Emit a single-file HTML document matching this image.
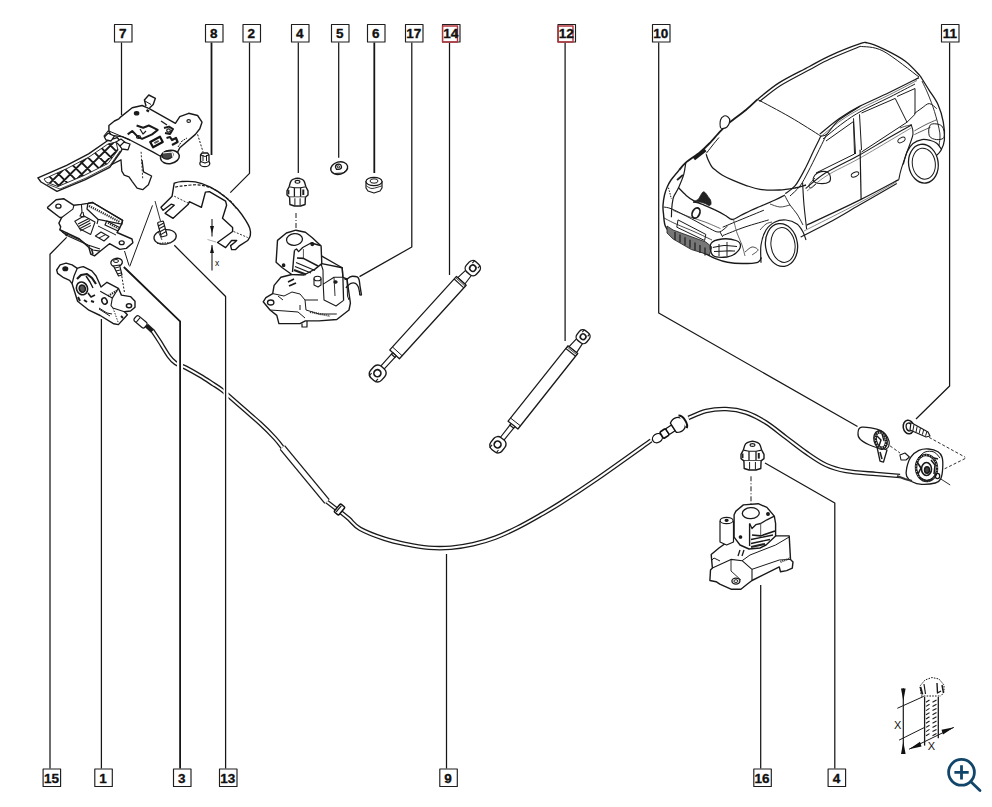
<!DOCTYPE html>
<html><head><meta charset="utf-8"><style>
html,body{margin:0;padding:0;background:#fff;width:992px;height:807px;overflow:hidden}
svg{position:absolute;left:0;top:0}
text{font-family:"Liberation Sans",sans-serif;font-weight:bold;font-size:13.5px;fill:#111;stroke:#111;stroke-width:0.35px}
</style></head><body>
<svg width="992" height="807" viewBox="0 0 992 807" stroke-linejoin="round">
<path d="M152.0,330.0 C153.3,331.9 156.9,337.2 159.7,341.6 C162.5,346.0 166.4,352.8 169.0,356.4 C171.6,360.0 172.7,361.1 175.5,363.0 C178.3,364.9 181.5,365.4 185.7,367.6 C189.9,369.8 195.9,373.2 200.6,376.0 C205.2,378.8 210.0,382.0 213.6,384.3 C217.2,386.6 219.2,387.8 222.0,390.0 C224.8,392.2 226.4,393.9 230.3,397.3 C234.2,400.7 240.2,406.0 245.2,410.3 C250.1,414.6 255.0,418.7 260.0,423.3 C265.0,427.9 271.3,434.2 275.0,438.2 C278.7,442.2 281.2,445.9 282.4,447.5" stroke="#1a1a1a" stroke-width="4.6" fill="none" stroke-linecap="butt"/>
<path d="M152.0,330.0 C153.3,331.9 156.9,337.2 159.7,341.6 C162.5,346.0 166.4,352.8 169.0,356.4 C171.6,360.0 172.7,361.1 175.5,363.0 C178.3,364.9 181.5,365.4 185.7,367.6 C189.9,369.8 195.9,373.2 200.6,376.0 C205.2,378.8 210.0,382.0 213.6,384.3 C217.2,386.6 219.2,387.8 222.0,390.0 C224.8,392.2 226.4,393.9 230.3,397.3 C234.2,400.7 240.2,406.0 245.2,410.3 C250.1,414.6 255.0,418.7 260.0,423.3 C265.0,427.9 271.3,434.2 275.0,438.2 C278.7,442.2 281.2,445.9 282.4,447.5" stroke="#fff" stroke-width="2.0" fill="none" stroke-linecap="butt"/>
<path d="M340.0,511.5 C341.5,512.7 345.6,515.9 348.9,518.8 C352.2,521.7 354.1,525.5 360.0,528.8 C365.9,532.1 376.6,536.2 384.4,538.8 C392.1,541.4 399.1,542.8 406.5,544.3 C413.9,545.8 421.3,547.1 428.7,547.7 C436.1,548.3 443.5,548.3 450.9,547.7 C458.3,547.1 465.6,546.0 473.0,544.3 C480.4,542.6 487.8,540.5 495.2,537.7 C502.6,534.9 510.0,531.4 517.4,527.7 C524.8,524.0 532.5,519.6 539.6,515.5 C546.7,511.4 550.4,509.4 560.0,503.3 C569.6,497.2 582.1,489.1 597.3,478.6 C612.5,468.1 642.0,446.9 651.0,440.5" stroke="#1a1a1a" stroke-width="4.6" fill="none" stroke-linecap="butt"/>
<path d="M340.0,511.5 C341.5,512.7 345.6,515.9 348.9,518.8 C352.2,521.7 354.1,525.5 360.0,528.8 C365.9,532.1 376.6,536.2 384.4,538.8 C392.1,541.4 399.1,542.8 406.5,544.3 C413.9,545.8 421.3,547.1 428.7,547.7 C436.1,548.3 443.5,548.3 450.9,547.7 C458.3,547.1 465.6,546.0 473.0,544.3 C480.4,542.6 487.8,540.5 495.2,537.7 C502.6,534.9 510.0,531.4 517.4,527.7 C524.8,524.0 532.5,519.6 539.6,515.5 C546.7,511.4 550.4,509.4 560.0,503.3 C569.6,497.2 582.1,489.1 597.3,478.6 C612.5,468.1 642.0,446.9 651.0,440.5" stroke="#fff" stroke-width="2.0" fill="none" stroke-linecap="butt"/>
<path d="M688.5,418.0 C691.4,416.8 699.8,412.5 706.0,411.0 C712.2,409.5 719.3,408.8 726.0,409.0 C732.7,409.2 739.3,410.2 746.0,412.5 C752.7,414.8 759.3,418.3 766.0,422.5 C772.7,426.7 779.3,432.5 786.0,437.5 C792.7,442.5 799.3,447.9 806.0,452.5 C812.7,457.1 819.3,461.9 826.0,465.0 C832.7,468.1 837.7,469.5 846.0,471.0 C854.3,472.5 867.0,473.2 876.0,474.0 C885.0,474.8 896.0,475.7 900.0,476.0" stroke="#1a1a1a" stroke-width="4.6" fill="none" stroke-linecap="butt"/>
<path d="M688.5,418.0 C691.4,416.8 699.8,412.5 706.0,411.0 C712.2,409.5 719.3,408.8 726.0,409.0 C732.7,409.2 739.3,410.2 746.0,412.5 C752.7,414.8 759.3,418.3 766.0,422.5 C772.7,426.7 779.3,432.5 786.0,437.5 C792.7,442.5 799.3,447.9 806.0,452.5 C812.7,457.1 819.3,461.9 826.0,465.0 C832.7,468.1 837.7,469.5 846.0,471.0 C854.3,472.5 867.0,473.2 876.0,474.0 C885.0,474.8 896.0,475.7 900.0,476.0" stroke="#fff" stroke-width="2.0" fill="none" stroke-linecap="butt"/>
<path d="M326.0,501.0 L341.0,512.5" stroke="#1a1a1a" stroke-width="4.2" fill="none" />
<path d="M326.0,501.0 L341.0,512.5" stroke="#fff" stroke-width="1.8" fill="none" />
<path d="M282.4,447.5 L327.0,501.5" stroke="#1a1a1a" stroke-width="7.0" fill="none" stroke-linecap="butt"/>
<path d="M282.4,447.5 L327.0,501.5" stroke="#fff" stroke-width="4.4" fill="none" stroke-linecap="butt"/>
<rect x="177" y="360" width="6" height="12" fill="#fff"/>
<rect x="223.5" y="388" width="5" height="12" fill="#fff"/>
<g transform="translate(140.5,321.8) rotate(40)"><rect x="-6.8" y="-3.4" width="13.6" height="6.8" rx="2" fill="#fff" stroke="#1a1a1a" stroke-width="1.2"/><path d="M-3,-3.3 V3.3" stroke="#1a1a1a" stroke-width="1"/></g>
<path d="M146.5,325.5 L152.5,331" stroke="#1a1a1a" stroke-width="4.5"/>
<g transform="translate(339.5,509.5) rotate(40)"><rect x="-3" y="-5.2" width="6" height="10.4" rx="1.5" fill="#fff" stroke="#111" stroke-width="1.5"/><path d="M-1,-4 V4" stroke="#111" stroke-width="1.2"/></g>
<g transform="translate(670,430) rotate(-33)" fill="#fff" stroke="#111" stroke-width="1.3"><ellipse cx="-15" cy="0" rx="5.2" ry="4.3"/><rect x="-10" y="-3.8" width="7" height="7.6" rx="1.5" stroke-width="1.7"/><rect x="-3" y="-3.4" width="7" height="6.8" rx="1"/><path d="M4,-5.5 C9,-9 16,-8 17,0 C16,8 9,9 4,5.5 Z"/><path d="M15,-7.5 C19,-5 19,5 15,7.5" stroke-width="2"/></g>
<g stroke="#12456a" stroke-width="2.8" fill="none" stroke-linecap="round"><circle cx="961.5" cy="772.3" r="12.9"/><path d="M954.4,772.3 H968.7 M961.5,765.2 V779.4" stroke-linecap="butt"/><path d="M970.6,781.6 L980,790.6"/></g>
<path d="M757.5,99.4 C761.1,96.6 770.7,88.0 779.3,82.6 C787.9,77.1 800.6,71.2 809.0,66.7 C817.4,62.2 821.3,59.6 829.7,55.8 C838.1,52.0 853.2,46.0 859.5,43.9 C865.8,41.8 863.4,42.1 867.4,42.9 C871.4,43.7 877.0,45.9 883.3,48.9 C889.6,51.9 898.8,56.5 905.0,61.0 C911.2,65.5 917.8,73.6 920.3,76.1" stroke="#1a1a1a" stroke-width="1.3" fill="none"/>
<path d="M759.5,101.5 C763.1,98.8 772.6,90.6 781.0,85.3 C789.4,80.0 801.7,74.0 810.0,69.5 C818.3,65.0 822.7,62.4 831.0,58.6 C839.3,54.8 855.2,48.5 860.0,46.5" stroke="#1a1a1a" stroke-width="1.1" fill="none"/>
<path d="M860.0,46.3 C863.8,47.1 873.2,45.9 883.0,51.0 C892.8,56.1 913.0,72.7 919.0,77.0" stroke="#1a1a1a" stroke-width="1.0" fill="none"/>
<path d="M920.3,76.1 C921.8,78.5 926.2,85.6 929.2,90.3 C932.2,95.0 935.6,99.2 938.0,104.5 C940.4,109.8 942.2,116.3 943.3,122.2 C944.4,128.1 944.8,135.3 944.4,140.0 C944.0,144.7 942.5,147.7 940.9,150.5 C939.3,153.3 936.0,155.9 935.0,157.0" stroke="#1a1a1a" stroke-width="1.3" fill="none"/>
<path d="M922.0,81.0 C923.0,83.2 925.9,88.9 928.0,94.0 C930.1,99.1 932.5,105.1 934.5,111.6 C936.5,118.1 939.0,127.2 939.8,132.9 C940.5,138.6 939.1,143.8 939.0,146.0" stroke="#1a1a1a" stroke-width="0.9" fill="none"/>
<path d="M757.5,99.4 C755.6,101.2 750.5,106.2 745.9,110.0 C741.3,113.8 734.0,118.9 729.8,122.4 C725.6,125.9 723.9,127.6 720.5,131.1 C717.1,134.6 712.7,140.0 709.3,143.5 C705.9,147.0 703.9,149.0 700.0,152.2 C696.1,155.4 689.3,159.6 685.8,162.6 C682.3,165.6 680.3,168.8 679.2,170.0" stroke="#1a1a1a" stroke-width="1.8" fill="none"/>
<path d="M705.5,150.0 L694.0,159.0" stroke="#1a1a1a" stroke-width="3.4" fill="none"/>
<path d="M719.0,137.5 C717.8,138.9 714.1,143.3 712.0,146.0 C709.9,148.7 707.2,152.2 706.2,153.4" stroke="#1a1a1a" stroke-width="1.0" fill="none"/>
<path d="M706.2,154.3 C706.5,155.2 707.0,157.4 708.0,159.5 C709.0,161.6 710.6,165.1 711.9,166.9 C713.2,168.7 714.2,169.1 716.0,170.5 C717.8,171.9 719.7,173.6 722.5,175.2 C725.3,176.8 728.7,178.5 732.6,180.2 C736.5,181.9 741.1,183.8 745.7,185.3 C750.3,186.8 754.4,188.5 760.0,189.3 C765.6,190.1 773.5,190.2 779.3,190.0 C785.1,189.8 790.5,188.8 795.0,188.0 C799.5,187.2 804.2,185.5 806.0,185.0" stroke="#1a1a1a" stroke-width="1.3" fill="none"/>
<path d="M757.5,99.4 C762.9,102.3 779.4,110.9 790.0,117.0 C800.6,123.1 815.8,132.9 820.9,136.1" stroke="#1a1a1a" stroke-width="1.0" fill="none"/>
<path d="M820.9,136.1 C819.8,138.4 816.5,144.8 814.0,150.0 C811.5,155.2 809.1,161.1 806.0,167.0 C802.9,172.9 798.7,181.3 795.2,185.7 C791.7,190.1 786.9,192.3 785.2,193.6" stroke="#1a1a1a" stroke-width="1.2" fill="none"/>
<path d="M826.9,134.1 C825.4,137.1 821.1,145.7 818.0,152.0 C814.9,158.3 811.0,166.3 808.0,172.0 C805.0,177.7 803.0,182.0 800.0,186.0 C797.0,190.0 791.7,194.3 790.0,196.0" stroke="#1a1a1a" stroke-width="1.0" fill="none"/>
<path d="M820.9,136.1 C821.9,135.8 823.9,136.8 826.9,134.1 C829.9,131.4 833.3,124.8 838.8,120.2 C844.3,115.6 856.5,108.7 860.0,106.4" stroke="#1a1a1a" stroke-width="1.1" fill="none"/>
<path d="M819.8,134.1 C823.1,131.5 833.1,122.9 839.7,118.3 C846.3,113.7 851.2,110.7 859.5,106.4 C867.8,102.1 879.3,97.3 889.2,92.5 C899.1,87.7 914.0,80.1 919.0,77.6" stroke="#1a1a1a" stroke-width="1.2" fill="none"/>
<path d="M823.0,139.0 C826.3,136.3 836.6,127.7 843.0,123.0 C849.4,118.3 853.7,115.3 861.5,111.0 C869.3,106.7 881.1,101.5 890.0,97.0 C898.9,92.5 910.8,86.2 915.0,84.0" stroke="#1a1a1a" stroke-width="1.0" fill="none"/>
<path d="M821.0,136.5 C824.3,133.8 834.4,125.1 841.0,120.5 C847.6,115.9 852.4,113.0 860.5,108.7 C868.6,104.4 880.1,99.4 889.5,94.7 C898.9,90.0 912.4,82.9 917.0,80.5" stroke="#444" stroke-width="0.7" fill="none"/>
<path d="M720.8,128.0 C719.7,126.8 720.0,122.0 720.5,120.0 C721.0,118.0 722.8,116.5 724.0,116.0 C725.2,115.5 727.0,116.2 728.0,117.0 C729.0,117.8 729.9,119.3 729.7,121.0 C729.5,122.7 728.5,125.8 727.0,127.0 C725.5,128.2 721.9,129.2 720.8,128.0Z" stroke="#1a1a1a" stroke-width="1.1" fill="#fff"/>
<path d="M813.5,181.0 C812.7,179.6 813.8,176.6 815.0,175.0 C816.2,173.4 818.8,172.0 821.0,171.6 C823.2,171.2 826.4,171.6 828.0,172.5 C829.6,173.4 830.2,175.4 830.4,177.0 C830.6,178.6 830.7,180.9 829.0,182.0 C827.3,183.1 822.6,183.7 820.0,183.5 C817.4,183.3 814.3,182.4 813.5,181.0Z" stroke="#1a1a1a" stroke-width="1.1" fill="#fff"/>
<path d="M815.0,178.0 C814.0,179.2 809.7,183.3 809.0,185.0 C808.3,186.7 809.8,188.2 811.0,188.0 C812.2,187.8 815.2,184.7 816.0,184.0" stroke="#1a1a1a" stroke-width="0.9" fill="none"/>
<path d="M826.0,141.0 L853.5,121.5 L854.5,154.0 L816.0,173.0" stroke="#1a1a1a" stroke-width="1.0" fill="none"/>
<path d="M853.5,118.3 L855.5,154.0" stroke="#1a1a1a" stroke-width="1.0" fill="none"/>
<path d="M859.5,114.3 L861.5,150.0" stroke="#1a1a1a" stroke-width="1.0" fill="none"/>
<path d="M861.5,113.0 L895.2,98.4 L907.0,122.2 L861.5,152.0" stroke="#1a1a1a" stroke-width="1.0" fill="none"/>
<path d="M897.0,96.5 L915.0,88.5 L915.0,114.3 L907.0,122.2" stroke="#1a1a1a" stroke-width="1.0" fill="none"/>
<path d="M805.6,188.5 C809.0,185.9 816.8,178.4 825.8,172.8 C834.8,167.2 849.6,160.5 859.5,155.0 C869.4,149.5 876.4,145.0 885.0,140.0 C893.6,135.0 906.7,127.7 911.0,125.2" stroke="#1a1a1a" stroke-width="1.1" fill="none"/>
<path d="M807.0,191.0 C810.3,188.4 818.2,181.0 827.0,175.5 C835.8,170.0 846.0,165.9 860.0,158.0 C874.0,150.1 902.5,133.0 911.0,128.0" stroke="#555" stroke-width="0.7" fill="none"/>
<path d="M802.6,182.5 C802.8,186.2 803.3,197.2 804.0,205.0 C804.7,212.8 806.2,225.0 806.6,229.0" stroke="#1a1a1a" stroke-width="1.1" fill="none"/>
<path d="M860.1,149.8 L861.1,199.4" stroke="#1a1a1a" stroke-width="1.2" fill="none"/>
<path d="M911.0,124.2 C911.3,125.8 913.7,129.5 913.0,134.1 C912.3,138.7 909.0,146.1 907.0,152.0 C905.0,157.9 902.4,165.2 901.0,169.8 C899.6,174.4 899.2,178.0 898.8,179.6" stroke="#1a1a1a" stroke-width="1.1" fill="none"/>
<path d="M806.6,225.2 C815.4,221.1 843.7,208.0 859.1,200.4 C874.5,192.8 892.2,183.1 898.8,179.6" stroke="#1a1a1a" stroke-width="1.2" fill="none"/>
<path d="M800.6,237.0 C805.5,234.5 820.3,227.3 830.0,222.0 C839.7,216.7 847.9,211.7 859.0,205.3 C870.1,198.9 890.5,187.1 896.8,183.5" stroke="#1a1a1a" stroke-width="1.2" fill="none"/>
<path d="M804.0,231.0 C813.2,226.3 843.5,211.2 859.0,203.0 C874.5,194.8 890.7,185.1 897.0,181.5" stroke="#555" stroke-width="0.7" fill="none"/>
<path d="M914.4,113.5 C915.7,112.6 919.5,109.7 922.0,108.0 C924.5,106.3 926.8,103.5 929.3,103.6 C931.8,103.7 935.5,107.8 936.7,108.6" stroke="#1a1a1a" stroke-width="1.0" fill="none"/>
<path d="M914.4,130.9 C916.2,129.9 921.3,126.9 925.0,125.0 C928.7,123.1 934.8,120.6 936.7,119.7" stroke="#333" stroke-width="0.8" fill="none"/>
<path d="M914.4,134.6 C915.7,134.0 919.3,132.2 922.0,131.0 C924.7,129.8 929.1,127.8 930.5,127.2" stroke="#333" stroke-width="0.8" fill="none"/>
<path d="M930.5,124.7 C932.6,123.0 939.4,123.8 941.7,125.9 C944.0,128.0 945.0,134.8 944.2,137.1 C943.4,139.4 939.2,139.8 936.7,139.6 C934.2,139.4 930.3,138.3 929.3,135.8 C928.3,133.3 928.4,126.4 930.5,124.7Z" stroke="#1a1a1a" stroke-width="1.0" fill="none"/>
<path d="M900.0,128.0 C901.0,127.7 904.2,126.5 906.0,126.0 C907.8,125.5 910.2,125.2 911.0,125.0" stroke="#1a1a1a" stroke-width="0.8" fill="none"/>
<ellipse cx="855.0" cy="174.5" rx="4.0" ry="2.2" transform="rotate(-25 855.0 174.5)" stroke="#1a1a1a" stroke-width="0.9" fill="none"/>
<ellipse cx="901.5" cy="140.0" rx="4.0" ry="2.2" transform="rotate(-30 901.5 140.0)" stroke="#1a1a1a" stroke-width="0.9" fill="none"/>
<path d="M761.0,262.7 C761.0,259.8 760.2,250.4 761.0,245.0 C761.8,239.6 763.7,233.8 766.0,230.0 C768.3,226.2 771.7,223.7 775.0,222.0 C778.3,220.3 782.3,219.7 786.0,220.0 C789.7,220.3 794.2,222.0 797.0,224.0 C799.8,226.0 801.5,229.3 803.0,232.0 C804.5,234.7 805.5,238.7 806.0,240.0" stroke="#1a1a1a" stroke-width="1.2" fill="none"/>
<ellipse cx="781.5" cy="245.0" rx="16.0" ry="21.5" transform="rotate(-8 781.5 245.0)" stroke="#1a1a1a" stroke-width="1.3" fill="#fff"/>
<ellipse cx="783.0" cy="245.0" rx="12.0" ry="17.5" transform="rotate(-8 783.0 245.0)" stroke="#1a1a1a" stroke-width="1.0" fill="none"/>
<path d="M903.3,164.4 C903.9,162.3 905.4,155.5 907.0,152.0 C908.6,148.5 910.5,145.6 913.0,143.5 C915.5,141.4 919.1,140.1 922.0,139.6 C924.9,139.1 928.0,139.9 930.5,140.5 C933.0,141.1 934.8,141.8 936.7,143.3 C938.6,144.8 940.9,148.5 941.7,149.5" stroke="#1a1a1a" stroke-width="1.2" fill="none"/>
<ellipse cx="923.4" cy="163.7" rx="14.8" ry="19.5" transform="rotate(-8 923.4 163.7)" stroke="#1a1a1a" stroke-width="1.3" fill="#fff"/>
<ellipse cx="923.8" cy="163.7" rx="11.5" ry="15.5" transform="rotate(-8 923.8 163.7)" stroke="#1a1a1a" stroke-width="1.0" fill="none"/>
<path d="M679.2,170.0 C677.8,171.7 673.0,177.1 671.0,180.0 C669.0,182.9 668.1,185.0 667.0,187.5 C665.9,190.0 665.2,192.0 664.5,195.0 C663.8,198.0 663.2,202.2 663.0,205.4 C662.8,208.6 663.1,210.5 663.5,213.9 C663.9,217.3 663.9,222.6 665.3,226.0 C666.7,229.4 668.6,231.4 671.9,234.4 C675.2,237.4 680.0,241.1 685.2,244.1 C690.5,247.1 698.4,250.2 703.4,252.6 C708.4,255.0 711.5,257.0 715.5,258.6 C719.5,260.2 723.2,261.5 727.6,262.3 C732.0,263.1 737.1,263.5 742.1,263.5 C747.1,263.5 754.6,263.3 757.8,262.3 C761.0,261.3 760.8,258.2 761.4,257.4" stroke="#1a1a1a" stroke-width="1.4" fill="none"/>
<path d="M685.8,162.6 C685.4,164.6 684.9,170.5 683.7,174.7 C682.5,178.9 680.1,184.2 678.5,187.8 C676.9,191.4 674.9,194.0 674.0,196.0 C673.1,198.0 673.3,197.7 672.9,199.7 C672.5,201.7 672.0,205.1 671.8,208.0 C671.5,210.9 671.5,215.8 671.4,217.3" stroke="#1a1a1a" stroke-width="1.2" fill="none"/>
<path d="M668.5,187.8 C669.0,189.7 670.9,197.1 671.4,199.0" stroke="#1a1a1a" stroke-width="1.0" fill="none" stroke-dasharray="1.5,1.2"/>
<path d="M678.5,187.8 C679.8,189.1 683.8,193.3 686.2,195.4 C688.7,197.5 690.2,198.8 693.2,200.4 C696.2,202.1 701.0,203.8 704.5,205.3 C708.0,206.8 711.0,207.9 714.4,209.6 C717.8,211.2 722.1,213.5 725.0,215.2 C727.9,216.8 729.4,219.4 732.0,219.5 C734.6,219.6 737.5,217.0 740.6,215.5 C743.7,214.0 747.5,212.0 750.7,210.5 C753.9,209.0 756.0,208.2 760.0,206.5 C764.0,204.8 770.8,201.9 775.0,200.0 C779.2,198.1 783.3,195.8 785.0,195.0" stroke="#1a1a1a" stroke-width="1.3" fill="none"/>
<path d="M673.1,210.5 C675.9,211.6 684.7,215.1 690.0,217.0 C695.3,218.9 699.9,220.1 705.0,222.0 C710.1,223.9 717.9,227.5 720.5,228.6" stroke="#444" stroke-width="0.8" fill="none"/>
<path d="M663.5,207.0 C664.9,207.3 667.3,207.1 671.9,209.0 C676.5,210.9 685.0,215.5 691.3,218.7 C697.5,221.9 704.8,226.2 709.4,228.4 C714.0,230.6 716.1,232.4 719.1,232.0 C722.1,231.6 726.2,227.0 727.6,226.0" stroke="#1a1a1a" stroke-width="1.0" fill="none"/>
<path d="M664.0,218.0 C666.0,219.0 670.8,221.7 676.0,224.0 C681.2,226.3 689.0,229.3 695.0,232.0 C701.0,234.7 709.2,238.7 712.0,240.0" stroke="#1a1a1a" stroke-width="0.8" fill="none"/>
<path d="M678.0,219.9 L705.8,234.4 L704.6,240.5 L676.8,227.2Z" stroke="#1a1a1a" stroke-width="1.0" fill="none"/>
<path d="M667.0,226.0 L673.1,230.0 L705.8,242.0 L711.9,247.0 L709.4,255.0 L691.3,249.5 L673.1,239.0 L667.0,233.0Z" stroke="#1a1a1a" stroke-width="0.8" fill="#777"/>
<path d="M675.0,232.0 l0,8" stroke="#222" stroke-width="1.3"/>
<path d="M680.0,234.6 l0,8" stroke="#222" stroke-width="1.3"/>
<path d="M685.0,237.2 l0,8" stroke="#222" stroke-width="1.3"/>
<path d="M690.0,239.8 l0,8" stroke="#222" stroke-width="1.3"/>
<path d="M695.0,242.4 l0,8" stroke="#222" stroke-width="1.3"/>
<path d="M700.0,245.0 l0,8" stroke="#222" stroke-width="1.3"/>
<path d="M705.0,247.6 l0,8" stroke="#222" stroke-width="1.3"/>
<path d="M711.0,243.5 C712.5,240.8 717.8,239.5 722.0,239.0 C726.2,238.5 732.9,239.4 736.0,240.5 C739.1,241.6 740.5,243.4 740.5,245.5 C740.5,247.6 738.2,251.1 736.0,253.0 C733.8,254.9 730.8,256.6 727.0,257.0 C723.2,257.4 715.7,257.8 713.0,255.5 C710.3,253.2 709.5,246.2 711.0,243.5Z" stroke="#1a1a1a" stroke-width="1.3" fill="none"/>
<path d="M713.0,247.5 C714.8,247.2 720.0,245.7 724.0,245.5 C728.0,245.3 734.8,246.3 737.0,246.5" stroke="#1a1a1a" stroke-width="1.2" fill="none"/>
<path d="M714.0,251.5 C716.0,251.4 722.5,251.1 726.0,251.0 C729.5,250.9 733.5,251.0 735.0,251.0" stroke="#1a1a1a" stroke-width="1.2" fill="none"/>
<path d="M719.0,244.0 C719.0,246.0 719.0,254.0 719.0,256.0" stroke="#1a1a1a" stroke-width="1.0" fill="none"/>
<path d="M727.0,242.0 C727.0,244.3 727.0,253.7 727.0,256.0" stroke="#1a1a1a" stroke-width="1.0" fill="none"/>
<path d="M722.7,227.2 C725.6,226.0 733.1,222.8 740.0,220.0 C746.9,217.2 759.9,211.8 763.9,210.2" stroke="#1a1a1a" stroke-width="1.0" fill="none"/>
<path d="M722.7,235.6 C726.4,234.2 737.3,229.6 745.0,227.0 C752.7,224.4 764.8,221.1 768.7,219.9" stroke="#1a1a1a" stroke-width="1.0" fill="none"/>
<path d="M720.0,232.0 L722.7,236.9" stroke="#1a1a1a" stroke-width="1.0" fill="none"/>
<path d="M745.0,252.0 C746.2,251.2 749.8,247.3 752.0,247.0 C754.2,246.7 758.0,248.7 758.0,250.0 C758.0,251.3 753.0,254.2 752.0,255.0" stroke="#1a1a1a" stroke-width="0.8" fill="none"/>
<path d="M760.0,230.0 C761.0,229.0 764.0,225.3 766.0,224.0 C768.0,222.7 771.0,222.3 772.0,222.0" stroke="#1a1a1a" stroke-width="0.8" fill="none"/>
<path d="M733.6,219.9 C734.2,222.1 735.6,228.8 737.0,233.0 C738.4,237.2 740.7,241.2 742.0,245.0 C743.3,248.8 744.5,254.2 745.0,256.0" stroke="#444" stroke-width="0.8" fill="none"/>
<path d="M785.0,196.0 C785.8,197.5 788.0,202.0 790.0,205.0 C792.0,208.0 794.8,210.7 797.0,214.0 C799.2,217.3 802.0,223.2 803.0,225.0" stroke="#1a1a1a" stroke-width="0.9" fill="none"/>
<path d="M770.0,204.0 C771.7,204.5 776.7,206.8 780.0,207.0 C783.3,207.2 788.3,205.3 790.0,205.0" stroke="#1a1a1a" stroke-width="0.8" fill="none"/>
<ellipse cx="696.0" cy="213.0" rx="3.6" ry="5.4" transform="rotate(25 696.0 213.0)" stroke="#1a1a1a" stroke-width="1.8" fill="none"/>
<path d="M694.0,201.5 C693.7,201.1 696.9,200.5 698.0,199.5 C699.1,198.5 699.7,196.8 700.5,195.5 C701.3,194.2 702.2,192.4 703.0,192.0 C703.8,191.6 704.7,192.2 705.5,193.0 C706.3,193.8 707.2,195.3 708.0,196.5 C708.8,197.7 710.0,198.8 710.5,200.0 C711.0,201.2 711.2,203.1 711.0,204.0 C710.8,204.9 710.0,205.6 709.0,205.5 C708.0,205.4 706.5,204.1 705.0,203.5 C703.5,202.9 701.8,202.3 700.0,202.0 C698.2,201.7 694.3,201.9 694.0,201.5Z" stroke="#222" stroke-width="0.8" fill="#222"/>
<path d="M693.0,202.0 C693.8,202.1 697.2,202.4 698.0,202.5" stroke="#222" stroke-width="1.6" fill="none"/>
<path d="M677.0,180.0 C678.0,179.2 682.0,175.8 683.0,175.0" stroke="#222" stroke-width="1.8" fill="none"/>
<path d="M109.7,165.5 L121.0,159.8 L121.8,171.1 L124.2,175.2 L129.0,176.8 L132.3,181.6 L137.1,188.1 L142.7,189.7 L148.4,184.8 L151.6,176.0 L143.5,171.9 L142.0,160.0" stroke="#1a1a1a" stroke-width="1.3" fill="#fff"/>
<path d="M141.1,151.8 L142.7,178.4" stroke="#1a1a1a" stroke-width="0.9" fill="none" stroke-dasharray="2,1.5"/>
<path d="M37.9,177.9 L66.6,165.4 L88.6,153.9 L107.8,140.5 L117.1,137.6 L124.0,145.0 L121.2,151.0 L109.7,167.4 L84.8,179.8 L57.0,191.3 L41.0,182.0Z" stroke="#1a1a1a" stroke-width="1.4" fill="#fff"/>
<path d="M44.0,179.0 L67.0,168.5 L89.0,157.0 L108.0,144.0 L116.0,142.0 L118.0,150.0 L108.0,163.5 L84.0,175.5 L58.0,186.5 L46.0,182.0Z" stroke="#1a1a1a" stroke-width="0.9" fill="none"/>
<path d="M47.0,184.0 L60.0,189.0 L86.0,178.0 L110.0,165.5 L120.0,151.0" stroke="#1a1a1a" stroke-width="0.8" fill="none"/>
<clipPath id="hc"><path d="M44.0,179.0 L67.0,168.5 L89.0,157.0 L108.0,144.0 L116.0,142.0 L118.0,150.0 L108.0,163.5 L84.0,175.5 L58.0,186.5 L46.0,182.0Z"/></clipPath>
<path d="M-230.0,210.0 l80,-80 M-227.0,130.0 l80,80 M-218.5,210.0 l80,-80 M-215.5,130.0 l80,80 M-207.0,210.0 l80,-80 M-204.0,130.0 l80,80 M-195.5,210.0 l80,-80 M-192.5,130.0 l80,80 M-184.0,210.0 l80,-80 M-181.0,130.0 l80,80 M-172.5,210.0 l80,-80 M-169.5,130.0 l80,80 M-161.0,210.0 l80,-80 M-158.0,130.0 l80,80 M-149.5,210.0 l80,-80 M-146.5,130.0 l80,80 M-138.0,210.0 l80,-80 M-135.0,130.0 l80,80 M-126.5,210.0 l80,-80 M-123.5,130.0 l80,80 M-115.0,210.0 l80,-80 M-112.0,130.0 l80,80 M-103.5,210.0 l80,-80 M-100.5,130.0 l80,80 M-92.0,210.0 l80,-80 M-89.0,130.0 l80,80 M-80.5,210.0 l80,-80 M-77.5,130.0 l80,80 M-69.0,210.0 l80,-80 M-66.0,130.0 l80,80 M-57.5,210.0 l80,-80 M-54.5,130.0 l80,80 M-46.0,210.0 l80,-80 M-43.0,130.0 l80,80 M-34.5,210.0 l80,-80 M-31.5,130.0 l80,80 M-23.0,210.0 l80,-80 M-20.0,130.0 l80,80 M-11.5,210.0 l80,-80 M-8.5,130.0 l80,80 M0.0,210.0 l80,-80 M3.0,130.0 l80,80 M11.5,210.0 l80,-80 M14.5,130.0 l80,80 M23.0,210.0 l80,-80 M26.0,130.0 l80,80 M34.5,210.0 l80,-80 M37.5,130.0 l80,80 M46.0,210.0 l80,-80 M49.0,130.0 l80,80 M57.5,210.0 l80,-80 M60.5,130.0 l80,80 M69.0,210.0 l80,-80 M72.0,130.0 l80,80 M80.5,210.0 l80,-80 M83.5,130.0 l80,80 M92.0,210.0 l80,-80 M95.0,130.0 l80,80 M103.5,210.0 l80,-80 M106.5,130.0 l80,80 M115.0,210.0 l80,-80 M118.0,130.0 l80,80 M126.5,210.0 l80,-80 M129.5,130.0 l80,80 M138.0,210.0 l80,-80 M141.0,130.0 l80,80 M149.5,210.0 l80,-80 M152.5,130.0 l80,80 M161.0,210.0 l80,-80 M164.0,130.0 l80,80 M172.5,210.0 l80,-80 M175.5,130.0 l80,80 M184.0,210.0 l80,-80 M187.0,130.0 l80,80 M195.5,210.0 l80,-80 M198.5,130.0 l80,80 M207.0,210.0 l80,-80 M210.0,130.0 l80,80 M218.5,210.0 l80,-80 M221.5,130.0 l80,80 M230.0,210.0 l80,-80 M233.0,130.0 l80,80 M241.5,210.0 l80,-80 M244.5,130.0 l80,80 M253.0,210.0 l80,-80 M256.0,130.0 l80,80 M264.5,210.0 l80,-80 M267.5,130.0 l80,80 M276.0,210.0 l80,-80 M279.0,130.0 l80,80 M287.5,210.0 l80,-80 M290.5,130.0 l80,80 M299.0,210.0 l80,-80 M302.0,130.0 l80,80 M310.5,210.0 l80,-80 M313.5,130.0 l80,80 M322.0,210.0 l80,-80 M325.0,130.0 l80,80 M333.5,210.0 l80,-80 M336.5,130.0 l80,80" stroke="#1a1a1a" stroke-width="1.9" fill="none" clip-path="url(#hc)"/>
<path d="M104.0,136.0 L108.0,131.0 L114.0,133.0 L111.0,139.0Z" stroke="#1a1a1a" stroke-width="1.2" fill="#fff"/>
<path d="M116.0,142.0 L121.0,139.0 L126.0,143.0 L122.0,148.0Z" stroke="#1a1a1a" stroke-width="1.2" fill="#fff"/>
<path d="M121.1,116.6 L132.2,107.7 L142.1,105.5 L148.8,108.3 L175.4,123.3 L179.8,116.6 L188.7,113.3 L197.6,115.5 L202.0,122.2 L199.8,128.8 L195.4,134.4 L179.8,147.7 L177.6,152.1 L170.0,157.0 L160.0,156.0 L153.2,152.1 L130.0,140.0 L122.2,136.6 L111.1,135.5 L108.9,131.0 L108.9,125.5 L114.4,121.0 L118.9,118.8Z" stroke="#1a1a1a" stroke-width="1.4" fill="#fff"/>
<path d="M146.0,106.0 L144.4,100.0 L148.8,95.0 L155.4,98.3 L153.2,104.4 L149.5,108.0" stroke="#1a1a1a" stroke-width="1.4" fill="#fff"/>
<path d="M145.0,101.0 L151.0,104.5" stroke="#1a1a1a" stroke-width="1.0" fill="none"/>
<path d="M104.4,137.0 L108.0,133.2 L114.4,136.0 L111.0,141.0 L106.0,140.0Z" stroke="#1a1a1a" stroke-width="1.3" fill="#fff"/>
<path d="M120.0,146.0 L124.0,142.1 L130.0,144.0 L128.0,149.9 L122.0,149.0Z" stroke="#1a1a1a" stroke-width="1.3" fill="#fff"/>
<path d="M108.9,131.0 L122.2,136.6 L130.0,140.0" stroke="#1a1a1a" stroke-width="1.0" fill="none"/>
<ellipse cx="136.6" cy="113.3" rx="2.2" ry="1.7" transform="rotate(0 136.6 113.3)" stroke="#1a1a1a" stroke-width="1.2" fill="#1a1a1a"/>
<path d="M146.5,110.0 L149.0,111.5" stroke="#1a1a1a" stroke-width="2.2" fill="none"/>
<ellipse cx="188.7" cy="121.0" rx="1.8" ry="1.4" transform="rotate(0 188.7 121.0)" stroke="#1a1a1a" stroke-width="1.1" fill="none"/>
<path d="M136.6,125.5 L143.2,127.7 L148.8,125.5 L153.2,127.7 L157.7,130.0 L152.1,134.4 L142.1,138.8 L137.7,136.6 L132.2,131.0 L127.7,134.4" stroke="#1a1a1a" stroke-width="2.0" fill="none"/>
<path d="M140.0,129.0 L143.0,134.0 L146.0,131.0" stroke="#1a1a1a" stroke-width="1.2" fill="none"/>
<ellipse cx="138.5" cy="137.0" rx="2.0" ry="1.5" transform="rotate(0 138.5 137.0)" stroke="#1a1a1a" stroke-width="1.2" fill="none"/>
<g transform="translate(156.5,142) rotate(-28)"><rect x="-5.5" y="-3" width="11" height="6" fill="#fff" stroke="#111" stroke-width="2.2"/><rect x="-2.5" y="-1" width="5" height="2" fill="#555"/></g>
<path d="M164.0,128.0 L169.0,126.6 L173.0,129.0 L170.0,134.0 L165.0,133.0" stroke="#1a1a1a" stroke-width="2.0" fill="none"/>
<ellipse cx="168.5" cy="130.5" rx="1.8" ry="1.6" transform="rotate(0 168.5 130.5)" stroke="#1a1a1a" stroke-width="1.2" fill="none"/>
<path d="M166.5,138.0 L170.0,137.0 L172.0,140.0 L176.0,138.0 L177.6,142.0 L172.0,145.0" stroke="#1a1a1a" stroke-width="2.2" fill="none"/>
<path d="M161.0,121.0 L167.0,125.0" stroke="#1a1a1a" stroke-width="1.4" fill="none"/>
<path d="M178.0,147.0 L182.0,141.0 L187.0,138.0" stroke="#1a1a1a" stroke-width="1.0" fill="none" stroke-dasharray="2,1"/>
<ellipse cx="169.9" cy="157.0" rx="9.5" ry="6.5" transform="rotate(-10 169.9 157.0)" stroke="#1a1a1a" stroke-width="1.5" fill="#fff"/>
<ellipse cx="167.5" cy="155.0" rx="5.5" ry="4.0" transform="rotate(-10 167.5 155.0)" stroke="#1a1a1a" stroke-width="1.4" fill="#444"/>
<path d="M163.0,153.0 L172.0,152.0 L173.0,157.0" stroke="#fff" stroke-width="1.2" fill="none"/>
<path d="M197.6,134.4 L203.1,152.1" stroke="#1a1a1a" stroke-width="1.0" fill="none" stroke-dasharray="2,1.5"/>
<ellipse cx="204.8" cy="163.5" rx="5.0" ry="3.2" transform="rotate(0 204.8 163.5)" stroke="#1a1a1a" stroke-width="1.3" fill="#fff"/>
<path d="M200.5,155.0 L202.0,153.0 L207.5,153.0 L209.0,155.0 L209.0,161.5 L205.0,163.0 L200.5,161.5Z" stroke="#1a1a1a" stroke-width="1.3" fill="#fff"/>
<path d="M203.0,155.0 L203.0,161.0" stroke="#1a1a1a" stroke-width="1.0" fill="none"/>
<path d="M206.5,155.0 L206.5,161.0" stroke="#1a1a1a" stroke-width="1.0" fill="none"/>
<path d="M200.5,155.0 L205.0,156.5 L209.0,155.0" stroke="#1a1a1a" stroke-width="1.0" fill="none"/>
<path d="M47.6,207.2 L56.1,199.7 L63.6,198.7 L73.9,205.3 L81.4,204.4 L87.9,203.4 L92.6,202.5 L122.6,220.3 L121.7,224.1 L117.0,232.5 L132.0,239.0 L132.9,242.8 L126.3,248.4 L119.8,249.4 L109.5,243.7 L100.1,251.2 L94.5,255.9 L90.7,254.0 L88.9,247.5 L79.5,239.0 L59.8,229.7 L60.7,226.9 L58.9,223.1 L61.7,217.5 L59.8,217.5 L47.6,208.1Z" stroke="#1a1a1a" stroke-width="1.4" fill="#fff"/>
<ellipse cx="58.4" cy="206.2" rx="2.6" ry="2.0" transform="rotate(0 58.4 206.2)" stroke="#1a1a1a" stroke-width="1.3" fill="none"/>
<ellipse cx="121.7" cy="242.8" rx="2.5" ry="1.9" transform="rotate(0 121.7 242.8)" stroke="#1a1a1a" stroke-width="1.3" fill="none"/>
<path d="M61.7,217.5 L72.9,209.1 L73.9,205.3" stroke="#1a1a1a" stroke-width="1.1" fill="none"/>
<path d="M87.9,203.4 L92.6,202.5 L122.6,220.3 L121.7,224.1 L98.2,219.4 L87.0,209.1Z" stroke="#1a1a1a" stroke-width="1.3" fill="none"/>
<path d="M89.0,206.0 L120.0,222.0" stroke="#222" stroke-width="2.2" fill="none" stroke-dasharray="1.2,1"/>
<path d="M98.2,219.4 L97.0,224.0" stroke="#1a1a1a" stroke-width="1.1" fill="none"/>
<path d="M106.7,221.0 L120.0,227.8 L118.0,231.0 L105.0,225.0Z" stroke="#1a1a1a" stroke-width="1.2" fill="none"/>
<path d="M108.0,223.0 L118.0,228.5" stroke="#222" stroke-width="1.8" fill="none" stroke-dasharray="1.2,1"/>
<path d="M59.8,229.7 L66.4,235.3 L88.0,245.0 L100.0,249.0" stroke="#1a1a1a" stroke-width="1.2" fill="none"/>
<path d="M62.0,232.0 L82.0,241.0 L90.0,247.0" stroke="#1a1a1a" stroke-width="0.9" fill="none"/>
<path d="M88.9,247.5 L93.0,250.0 L100.1,251.2" stroke="#1a1a1a" stroke-width="1.2" fill="none"/>
<path d="M91.5,249.0 L93.0,254.0" stroke="#1a1a1a" stroke-width="1.5" fill="none"/>
<path d="M81.4,204.4 L82.0,212.0 L80.0,216.0 L84.0,217.0 L83.0,212.0" stroke="#1a1a1a" stroke-width="1.1" fill="none"/>
<path d="M74.8,221.2 L84.0,216.0 L95.0,222.0 L90.7,234.4 L80.0,229.0Z" stroke="#1a1a1a" stroke-width="1.1" fill="none"/>
<path d="M78.0,224.0 L89.0,218.5" stroke="#1a1a1a" stroke-width="1.2" fill="none"/>
<path d="M78.5,226.5 L90.0,220.5" stroke="#1a1a1a" stroke-width="1.2" fill="none"/>
<path d="M79.0,229.0 L90.5,223.0" stroke="#1a1a1a" stroke-width="1.2" fill="none"/>
<path d="M80.0,231.0 L91.0,225.5" stroke="#1a1a1a" stroke-width="1.0" fill="none"/>
<path d="M95.4,236.0 L101.0,232.0 L109.0,236.5 L104.0,241.0Z" stroke="#1a1a1a" stroke-width="1.1" fill="none"/>
<path d="M99.0,238.0 L106.0,234.4" stroke="#1a1a1a" stroke-width="1.0" fill="none"/>
<path d="M98.0,226.0 L116.0,235.0" stroke="#1a1a1a" stroke-width="1.0" fill="none"/>
<path d="M66.0,236.0 L68.0,233.0" stroke="#1a1a1a" stroke-width="1.5" fill="none"/>
<path d="M56.7,270.0 L60.1,264.9 L66.1,263.1 L72.1,264.9 L77.3,268.3 L79.9,267.4 L83.3,266.6 L91.8,270.9 L96.1,276.0 L99.6,283.7 L101.0,287.0 L107.0,282.3 L118.4,288.3 L120.5,293.0 L121.4,295.1 L130.5,296.6 L135.0,301.2 L135.0,307.2 L130.5,311.0 L124.4,311.7 L127.4,314.8 L118.4,324.6 L113.8,323.8 L100.2,315.5 L88.9,310.2 L77.6,301.2 L72.1,283.7 L69.6,280.3 L63.6,277.7 L57.6,273.4Z" stroke="#1a1a1a" stroke-width="1.4" fill="#fff"/>
<ellipse cx="65.3" cy="268.7" rx="2.4" ry="1.9" transform="rotate(0 65.3 268.7)" stroke="#1a1a1a" stroke-width="1.3" fill="#1a1a1a"/>
<path d="M72.1,283.7 L74.0,276.0 L77.3,268.3" stroke="#1a1a1a" stroke-width="1.3" fill="none"/>
<path d="M100.2,291.3 L112.3,298.1 L118.4,288.3" stroke="#1a1a1a" stroke-width="1.2" fill="none"/>
<path d="M112.3,298.1 L111.0,305.7 L113.0,308.0 L124.4,311.7" stroke="#1a1a1a" stroke-width="1.1" fill="none"/>
<path d="M108.0,296.0 L117.0,290.5" stroke="#222" stroke-width="2.0" fill="none" stroke-dasharray="1.3,1"/>
<ellipse cx="104.5" cy="301.0" rx="2.5" ry="3.2" transform="rotate(-30 104.5 301.0)" stroke="#1a1a1a" stroke-width="1.5" fill="none"/>
<ellipse cx="129.0" cy="305.7" rx="2.6" ry="2.0" transform="rotate(0 129.0 305.7)" stroke="#1a1a1a" stroke-width="1.5" fill="none"/>
<path d="M99.0,309.0 L110.0,316.0" stroke="#1a1a1a" stroke-width="1.0" fill="none"/>
<path d="M113.0,308.0 L118.4,323.0" stroke="#1a1a1a" stroke-width="0.9" fill="none" stroke-dasharray="1.5,1.2"/>
<path d="M121.0,316.0 L123.0,318.0" stroke="#1a1a1a" stroke-width="1.8" fill="none"/>
<ellipse cx="82.0" cy="288.4" rx="5.5" ry="6.5" transform="rotate(-20 82.0 288.4)" stroke="#1a1a1a" stroke-width="1.6" fill="none"/>
<ellipse cx="82.3" cy="288.6" rx="3.0" ry="3.6" transform="rotate(-20 82.3 288.6)" stroke="#1a1a1a" stroke-width="1.6" fill="#555"/>
<path d="M77.0,279.0 L81.0,275.0 L87.0,274.0 L92.0,278.0 L96.0,284.0" stroke="#1a1a1a" stroke-width="2.2" fill="none"/>
<path d="M86.0,276.0 L90.0,282.0 L93.0,288.0" stroke="#1a1a1a" stroke-width="1.4" fill="none"/>
<path d="M88.0,293.0 L91.0,297.0 L95.0,295.0" stroke="#1a1a1a" stroke-width="1.6" fill="none"/>
<path d="M78.0,297.0 L80.0,301.0" stroke="#1a1a1a" stroke-width="2.0" fill="none"/>
<path d="M84.0,300.0 L87.0,302.0" stroke="#1a1a1a" stroke-width="2.0" fill="none"/>
<path d="M91.0,301.0 L94.0,302.0" stroke="#1a1a1a" stroke-width="2.0" fill="none"/>
<path d="M99.0,308.0 L107.0,313.0 L112.0,314.0" stroke="#1a1a1a" stroke-width="1.0" fill="none"/>
<ellipse cx="116.6" cy="262.5" rx="5.8" ry="4.2" transform="rotate(-10 116.6 262.5)" stroke="#1a1a1a" stroke-width="1.3" fill="#fff"/>
<path d="M113.5,266.0 L118.5,276.0 L122.0,275.0 L119.5,265.0Z" stroke="#1a1a1a" stroke-width="1.2" fill="#fff"/>
<path d="M115.0,268.0 L119.0,267.0" stroke="#1a1a1a" stroke-width="1" fill="none"/>
<path d="M116.0,271.0 L120.0,270.0" stroke="#1a1a1a" stroke-width="1" fill="none"/>
<path d="M117.0,274.0 L121.0,273.0" stroke="#1a1a1a" stroke-width="1" fill="none"/>
<ellipse cx="116.0" cy="261.0" rx="2.5" ry="1.5" transform="rotate(0 116.0 261.0)" stroke="#1a1a1a" stroke-width="1" fill="none"/>
<path d="M121.8,276.2 L124.4,292.0" stroke="#1a1a1a" stroke-width="1" fill="none" stroke-dasharray="2,1.5"/>
<ellipse cx="165.1" cy="236.9" rx="11.2" ry="7.2" transform="rotate(-8 165.1 236.9)" stroke="#1a1a1a" stroke-width="1.3" fill="#fff"/>
<path d="M158.0,231.0 L162.0,240.0" stroke="#1a1a1a" stroke-width="0.8" fill="none"/>
<g transform="translate(162.3,229) rotate(-15)"><rect x="-3" y="-7.5" width="6" height="15" rx="1" fill="#fff" stroke="#1a1a1a" stroke-width="1.2"/><path d="M-3,-4 L3,-5.5 M-3,-1 L3,-2.5 M-3,2 L3,0.5 M-3,5 L3,3.5" stroke="#1a1a1a" stroke-width="1.1"/></g>
<path d="M155.0,201.0 L160.5,221.0" stroke="#1a1a1a" stroke-width="0.9" fill="none"/>
<path d="M152.5,205.4 L129.7,266.5" stroke="#1a1a1a" stroke-width="1.0" fill="none"/>
<path d="M124.5,251.0 L129.0,265.5" stroke="#1a1a1a" stroke-width="1.0" fill="none"/>
<path d="M157.0,243.5 L172.0,242.5" stroke="#333" stroke-width="1.2" fill="none" stroke-dasharray="1.5,1"/>
<path d="M174.2,183.1 C175.4,182.8 177.7,181.8 181.2,181.6 C184.7,181.4 190.4,181.0 195.3,181.9 C200.2,182.8 205.4,184.6 210.4,187.1 C215.4,189.6 221.1,193.5 225.6,197.2 C230.1,200.9 234.3,205.4 237.7,209.3 C241.0,213.2 243.7,217.2 245.7,220.4 C247.7,223.6 249.0,225.9 249.8,228.4 C250.6,230.9 250.7,233.5 250.3,235.5 C250.0,237.5 248.1,239.7 247.7,240.5 L239.7,245.6 L235.6,249.6 L231.6,249.6 L230.6,245.6 L234.6,242.5 L236.7,240.5 L231.6,240.5 L225.6,247.6 L217.5,242.5 L232.6,231.5 L232.6,227.4 L222.5,218.3 L226.6,205.2 L225.6,201.2 L209.4,191.6 L205.4,192.1 L201.4,207.3 L189.3,201.7 L188.3,204.2 L173.1,218.3 L165.1,213.3 L174.2,205.2 L171.1,204.2 L163.1,210.3 L161.0,207.3 L172.1,196.2Z" stroke="#151515" stroke-width="1.4" fill="#fff"/>
<path d="M175.2,187.1 C176.9,186.8 181.0,185.9 185.2,185.6 C189.4,185.3 195.3,184.3 200.4,185.1 C205.5,185.8 210.5,187.4 215.5,190.1 C220.5,192.8 227.2,198.2 230.6,201.2 C233.9,204.2 234.8,207.1 235.6,208.3" stroke="#1a1a1a" stroke-width="1.1" fill="none" stroke-dasharray="3,1.5"/>
<path d="M233.6,231.5 L247.7,237.5" stroke="#1a1a1a" stroke-width="0.9" fill="none" stroke-dasharray="2,1.5"/>
<path d="M174.2,196.2 L188.3,203.2" stroke="#1a1a1a" stroke-width="0.9" fill="none" stroke-dasharray="2,1.5"/>
<path d="M212.0,219.0 L212.0,236.5" stroke="#1a1a1a" stroke-width="1.1" fill="none"/>
<path d="M212.0,245.0 L212.0,270.4" stroke="#1a1a1a" stroke-width="1.1" fill="none"/>
<path d="M210,226 L214,226 L212,233.5Z M210,253 L214,253 L212,245.5Z" fill="#111"/>
<path d="M207.5,239.5 L216.0,242.0" stroke="#999" stroke-width="0.8" fill="none"/>
<text x="215" y="266" style="font-weight:normal;font-size:8.5px;stroke:none">x</text>
<path d="M289.1,186.8 C289.5,185.7 290.1,182.1 291.2,180.7 C292.2,179.3 294.0,178.9 295.4,178.5 C296.8,178.1 298.2,178.1 299.6,178.5 C301.0,178.9 302.8,179.3 303.8,180.7 C304.9,182.1 305.5,185.7 305.9,186.8" stroke="#1a1a1a" stroke-width="1.4" fill="#fff"/>
<ellipse cx="297.5" cy="181.8" rx="2.4" ry="1.4" transform="rotate(0 297.5 181.8)" stroke="#1a1a1a" stroke-width="1.1" fill="none"/>
<path d="M289.1,186.8 L287.0,190.9 L287.0,195.0 L289.6,197.2 L305.4,197.2 L308.0,195.0 L308.0,190.9 L305.9,186.8" stroke="#1a1a1a" stroke-width="1.4" fill="#fff"/>
<path d="M289.1,186.8 L294.4,187.8 L300.6,187.8 L305.9,186.8" stroke="#1a1a1a" stroke-width="1.1" fill="none"/>
<path d="M294.4,187.8 L294.4,196.7" stroke="#1a1a1a" stroke-width="1.3" fill="none"/>
<path d="M300.6,187.8 L300.6,196.7" stroke="#1a1a1a" stroke-width="1.3" fill="none"/>
<path d="M303.3,189.5 L303.3,195.0" stroke="#222" stroke-width="2.0" fill="none"/>
<path d="M288.6,190.1 L288.6,194.4" stroke="#222" stroke-width="1.6" fill="none"/>
<path d="M289.6,197.2 L289.9,204.5 L294.4,206.0 L300.6,206.0 L305.1,204.5 L305.4,197.2" stroke="#1a1a1a" stroke-width="1.4" fill="#fff"/>
<path d="M294.9,198.3 L294.9,205.5" stroke="#1a1a1a" stroke-width="1.0" fill="none"/>
<path d="M300.1,198.3 L300.1,205.5" stroke="#1a1a1a" stroke-width="1.0" fill="none"/>
<path d="M296.0,213.0 L296.0,228.0" stroke="#1a1a1a" stroke-width="1.0" fill="none" stroke-dasharray="5,2,1,2"/>
<ellipse cx="339.2" cy="168.1" rx="8.6" ry="6.2" transform="rotate(-15 339.2 168.1)" stroke="#1a1a1a" stroke-width="1.4" fill="#fff"/>
<ellipse cx="338.5" cy="166.8" rx="3.0" ry="2.6" transform="rotate(-10 338.5 166.8)" stroke="#1a1a1a" stroke-width="1.3" fill="none"/>
<ellipse cx="338.5" cy="166.8" rx="1.2" ry="1.0" transform="rotate(0 338.5 166.8)" stroke="#1a1a1a" stroke-width="1.0" fill="none"/>
<path d="M331.0,171.0 L334.0,173.5 L343.0,173.0 L347.0,170.0" stroke="#1a1a1a" stroke-width="1.0" fill="none"/>
<path d="M366.0,181.0 L366.0,188.0 L368.0,191.0 L374.0,193.0 L380.0,191.0 L382.0,188.0 L382.0,181.0" stroke="#1a1a1a" stroke-width="1.2" fill="#fff"/>
<ellipse cx="374.0" cy="181.5" rx="8.0" ry="4.2" transform="rotate(0 374.0 181.5)" stroke="#1a1a1a" stroke-width="1.2" fill="#fff"/>
<ellipse cx="374.0" cy="181.0" rx="4.0" ry="2.2" transform="rotate(0 374.0 181.0)" stroke="#1a1a1a" stroke-width="1.0" fill="none"/>
<path d="M366.5,186.0 C367.4,186.4 369.5,188.5 372.0,188.5 C374.5,188.5 379.9,186.4 381.5,186.0" stroke="#1a1a1a" stroke-width="0.9" fill="none"/>
<path d="M263.2,301.8 L265.9,297.7 L272.7,293.6 L274.1,285.4 L280.9,277.3 L291.8,274.5 L321.8,263.6 L342.2,267.7 L342.9,277.3 L347.0,279.0 L350.4,303.2 L349.0,310.0 L336.8,319.5 L319.0,320.9 L305.4,320.9 L300.0,323.6 L278.9,323.6 L276.8,315.4 L270.0,310.0Z" stroke="#1a1a1a" stroke-width="1.4" fill="#fff"/>
<path d="M321.8,256.1 L342.2,267.7 L342.9,277.3 L343.6,300.4" stroke="#1a1a1a" stroke-width="1.3" fill="none"/>
<path d="M320.4,262.0 L323.0,270.0 L323.2,284.1 L334.0,277.3 L342.2,277.3" stroke="#1a1a1a" stroke-width="1.1" fill="none"/>
<path d="M323.2,284.1 L324.0,300.0 L336.0,306.0 L343.6,300.4" stroke="#1a1a1a" stroke-width="1.1" fill="none"/>
<path d="M334.0,277.3 L335.0,296.0" stroke="#1a1a1a" stroke-width="0.9" fill="none"/>
<ellipse cx="335.5" cy="282.0" rx="1.6" ry="1.2" transform="rotate(0 335.5 282.0)" stroke="#1a1a1a" stroke-width="1.2" fill="#222"/>
<ellipse cx="317.5" cy="278.5" rx="3.5" ry="2.3" transform="rotate(0 317.5 278.5)" stroke="#1a1a1a" stroke-width="1.1" fill="#fff"/>
<path d="M314.0,278.5 L314.0,285.0 L318.0,287.0 L321.0,285.0 L321.0,278.5" stroke="#1a1a1a" stroke-width="1.1" fill="none"/>
<ellipse cx="270.7" cy="302.5" rx="3.2" ry="2.5" transform="rotate(0 270.7 302.5)" stroke="#1a1a1a" stroke-width="1.3" fill="none"/>
<path d="M272.7,293.6 L284.0,296.0 L292.0,292.0 L300.0,294.0 L305.0,300.0 L318.0,300.0" stroke="#1a1a1a" stroke-width="1.0" fill="none"/>
<path d="M270.0,310.0 L285.0,311.0 L298.0,312.0 L305.0,318.0" stroke="#1a1a1a" stroke-width="1.0" fill="none"/>
<path d="M305.0,300.0 L306.0,310.0 L319.0,314.0 L336.8,314.0" stroke="#1a1a1a" stroke-width="1.0" fill="none"/>
<path d="M310.0,312.0 L330.0,316.0" stroke="#333" stroke-width="2.0" fill="none" stroke-dasharray="1,1"/>
<path d="M288.0,282.0 L294.0,279.0" stroke="#1a1a1a" stroke-width="1.8" fill="none"/>
<path d="M289.0,286.0 L296.0,283.0" stroke="#1a1a1a" stroke-width="1.8" fill="none"/>
<path d="M278.0,296.0 L283.0,300.0" stroke="#1a1a1a" stroke-width="1.0" fill="none"/>
<path d="M302.0,323.6 L302.0,327.0 L307.0,327.0 L307.0,321.0" stroke="#1a1a1a" stroke-width="1.2" fill="none"/>
<path d="M300.0,305.0 L300.0,310.0" stroke="#1a1a1a" stroke-width="1.0" fill="none"/>
<path d="M277.5,240.4 L286.4,233.0 L295.9,230.2 L305.4,232.3 L312.3,237.7 L321.1,245.9 L321.8,263.6 L315.0,269.1 L304.0,275.0 L291.8,274.5 L282.3,267.7 L276.1,262.3Z" stroke="#1a1a1a" stroke-width="1.4" fill="#fff"/>
<ellipse cx="294.5" cy="239.5" rx="8.0" ry="5.8" transform="rotate(-5 294.5 239.5)" stroke="#1a1a1a" stroke-width="1.3" fill="#fff"/>
<path d="M320.4,245.5 L311.0,243.0 L302.7,247.5 L298.6,251.6 L296.5,249.0 L294.5,250.2" stroke="#1a1a1a" stroke-width="1.3" fill="none"/>
<path d="M294.5,250.2 L293.5,260.0 L292.5,272.0" stroke="#1a1a1a" stroke-width="1.4" fill="none"/>
<path d="M303.4,249.0 L303.4,258.4" stroke="#555" stroke-width="1.0" fill="none"/>
<path d="M297.0,258.0 L303.4,258.4 L318.0,266.0" stroke="#1a1a1a" stroke-width="1.6" fill="none"/>
<path d="M296.0,262.5 L315.0,270.5" stroke="#1a1a1a" stroke-width="1.3" fill="none"/>
<path d="M295.0,266.5 L311.0,273.0" stroke="#1a1a1a" stroke-width="1.3" fill="none"/>
<path d="M294.0,270.0 L306.0,274.5" stroke="#222" stroke-width="2.2" fill="none"/>
<ellipse cx="312.3" cy="244.1" rx="1.4" ry="1.4" transform="rotate(0 312.3 244.1)" stroke="#1a1a1a" stroke-width="1.3" fill="#222"/>
<ellipse cx="283.6" cy="265.2" rx="1.2" ry="1.3" transform="rotate(0 283.6 265.2)" stroke="#1a1a1a" stroke-width="1.3" fill="#222"/>
<path d="M344.5,279.5 C344.9,279.4 346.3,279.4 347.2,279.0 C348.1,278.6 349.1,277.4 350.0,277.0 C350.9,276.6 351.5,276.3 352.7,276.3 C353.9,276.3 356.1,276.3 357.2,276.8 C358.2,277.3 358.5,278.0 359.0,279.5 C359.5,281.0 359.7,283.9 360.0,286.0 C360.3,288.1 360.8,290.5 361.0,292.0 C361.2,293.5 361.4,294.5 361.5,295.0" stroke="#1a1a1a" stroke-width="1.4" fill="none"/>
<path d="M346.0,288.0 C346.2,287.7 346.7,286.8 347.5,286.0 C348.3,285.2 349.6,283.8 350.9,283.3 C352.2,282.9 354.2,282.8 355.4,283.3 C356.6,283.8 357.4,285.1 358.1,286.5 C358.8,287.9 359.2,290.6 359.5,292.0 C359.8,293.4 359.8,294.5 359.8,295.0" stroke="#1a1a1a" stroke-width="1.3" fill="none"/>
<path d="M359.5,295.0 L361.8,295.0" stroke="#1a1a1a" stroke-width="1.3" fill="none"/>
<path d="M347.0,279.0 L347.5,296.0 L349.0,300.0" stroke="#1a1a1a" stroke-width="1.0" fill="none"/>
<path d="M471.7,275.0 L464.9,284.0 L457.8,277.6 L466.1,269.9Z" stroke="#1a1a1a" stroke-width="1.2" fill="#fff"/>
<path d="M466.2,285.2 L399.4,358.7 L389.8,349.9 L456.5,276.4Z" stroke="#1a1a1a" stroke-width="1.3" fill="#fff"/>
<path d="M463.8,287.8 L454.2,279.0" stroke="#1a1a1a" stroke-width="1.1" fill="none"/>
<path d="M465.2,286.3 L455.5,277.5" stroke="#1a1a1a" stroke-width="0.8" fill="none"/>
<path d="M402.1,355.7 L392.5,347.0" stroke="#1a1a1a" stroke-width="1.0" fill="none"/>
<path d="M396.3,355.9 L383.6,369.6 L380.3,366.7 L392.8,352.7Z" stroke="#1a1a1a" stroke-width="1.2" fill="#fff"/>
<path d="M395.4,357.8 L391.0,353.8" stroke="#1a1a1a" stroke-width="1.2" fill="none"/>
<g transform="translate(472.8,268.2) rotate(132.3)"><rect x="-6.8" y="-6.8" width="13.6" height="13.6" rx="4.8" fill="#fff" stroke="#1a1a1a" stroke-width="1.4"/><ellipse cx="0" cy="0" rx="3.1" ry="3.1" fill="none" stroke="#1a1a1a" stroke-width="1.6"/><path d="M-6.8,-3.7 h3.4 M-6.8,3.7 h3.4" stroke="#1a1a1a" stroke-width="1.1"/></g>
<g transform="translate(377.4,373.2) rotate(132.3)"><rect x="-7.8" y="-7.8" width="15.6" height="14.8" rx="5.5" fill="#fff" stroke="#1a1a1a" stroke-width="1.4"/><ellipse cx="0" cy="0" rx="3.5" ry="3.5" fill="none" stroke="#1a1a1a" stroke-width="1.7"/><path d="M3.9,-4.3 h3.9 M3.9,4.3 h3.9" stroke="#1a1a1a" stroke-width="1.1"/></g>
<path d="M582.8,343.1 L576.6,352.6 L569.1,346.7 L576.9,338.4Z" stroke="#1a1a1a" stroke-width="1.2" fill="#fff"/>
<path d="M577.7,353.5 L517.9,429.0 L508.1,421.2 L567.9,345.8Z" stroke="#1a1a1a" stroke-width="1.3" fill="#fff"/>
<path d="M575.6,356.3 L565.8,348.5" stroke="#1a1a1a" stroke-width="1.1" fill="none"/>
<path d="M576.8,354.7 L567.0,346.9" stroke="#1a1a1a" stroke-width="0.8" fill="none"/>
<path d="M520.4,425.8 L510.6,418.1" stroke="#1a1a1a" stroke-width="1.0" fill="none"/>
<path d="M514.9,426.6 L503.4,440.8 L499.9,438.0 L511.1,423.6Z" stroke="#1a1a1a" stroke-width="1.2" fill="#fff"/>
<path d="M514.1,428.5 L509.4,424.8" stroke="#1a1a1a" stroke-width="1.2" fill="none"/>
<g transform="translate(583.1,336.7) rotate(128.4)"><rect x="-6.2" y="-6.2" width="12.4" height="12.4" rx="4.3" fill="#fff" stroke="#1a1a1a" stroke-width="1.4"/><ellipse cx="0" cy="0" rx="2.8" ry="2.8" fill="none" stroke="#1a1a1a" stroke-width="1.6"/><path d="M-6.2,-3.4 h3.1 M-6.2,3.4 h3.1" stroke="#1a1a1a" stroke-width="1.1"/></g>
<g transform="translate(497.6,444.5) rotate(128.4)"><rect x="-7.5" y="-7.5" width="15.0" height="14.2" rx="5.2" fill="#fff" stroke="#1a1a1a" stroke-width="1.4"/><ellipse cx="0" cy="0" rx="3.4" ry="3.4" fill="none" stroke="#1a1a1a" stroke-width="1.7"/><path d="M3.8,-4.1 h3.8 M3.8,4.1 h3.8" stroke="#1a1a1a" stroke-width="1.1"/></g>
<path d="M743.3,450.1 C743.7,449.1 744.5,445.3 745.6,443.9 C746.8,442.5 748.7,442.0 750.2,441.6 C751.7,441.2 753.3,441.2 754.8,441.6 C756.3,442.0 758.2,442.5 759.4,443.9 C760.5,445.3 761.3,449.1 761.7,450.1" stroke="#1a1a1a" stroke-width="1.4" fill="#fff"/>
<ellipse cx="752.5" cy="445.0" rx="2.4" ry="1.4" transform="rotate(0 752.5 445.0)" stroke="#1a1a1a" stroke-width="1.1" fill="none"/>
<path d="M743.3,450.1 L741.0,454.4 L741.0,458.6 L743.9,460.9 L761.1,460.9 L764.0,458.6 L764.0,454.4 L761.7,450.1" stroke="#1a1a1a" stroke-width="1.4" fill="#fff"/>
<path d="M743.3,450.1 L749.0,451.3 L756.0,451.3 L761.7,450.1" stroke="#1a1a1a" stroke-width="1.1" fill="none"/>
<path d="M749.0,451.3 L749.0,460.3" stroke="#1a1a1a" stroke-width="1.3" fill="none"/>
<path d="M756.0,451.3 L756.0,460.3" stroke="#1a1a1a" stroke-width="1.3" fill="none"/>
<path d="M758.8,453.0 L758.8,458.6" stroke="#222" stroke-width="2.0" fill="none"/>
<path d="M742.7,453.5 L742.7,458.1" stroke="#222" stroke-width="1.6" fill="none"/>
<path d="M743.9,460.9 L744.2,468.5 L749.0,470.0 L756.0,470.0 L760.8,468.5 L761.1,460.9" stroke="#1a1a1a" stroke-width="1.4" fill="#fff"/>
<path d="M749.6,462.0 L749.6,469.5" stroke="#1a1a1a" stroke-width="1.0" fill="none"/>
<path d="M755.4,462.0 L755.4,469.5" stroke="#1a1a1a" stroke-width="1.0" fill="none"/>
<path d="M751.0,476.3 L751.0,506.0" stroke="#1a1a1a" stroke-width="1.0" fill="none" stroke-dasharray="5,2,1,2"/>
<path d="M711.2,554.5 L719.0,548.0 L734.1,537.1 L775.6,535.9 L789.2,535.9 L790.5,559.4 L793.0,561.9 L792.3,568.1 L786.7,570.6 L780.5,571.8 L779.3,566.9 L752.0,580.5 L747.1,584.2 L740.9,589.2 L731.0,589.2 L719.8,584.2 L716.1,581.7 L709.9,580.5 L710.5,570.0 L712.4,568.1Z" stroke="#1a1a1a" stroke-width="1.4" fill="#fff"/>
<path d="M712.4,568.1 L731.0,559.4 L742.1,560.7 L752.0,569.3 L752.0,580.5" stroke="#1a1a1a" stroke-width="1.1" fill="none"/>
<path d="M742.1,560.7 L750.0,555.0 L775.6,545.0 L789.2,537.0" stroke="#1a1a1a" stroke-width="1.0" fill="none"/>
<path d="M752.0,569.3 L779.3,560.0 L790.5,559.4" stroke="#1a1a1a" stroke-width="1.0" fill="none"/>
<path d="M731.0,559.4 L731.0,571.0 L740.9,580.0" stroke="#1a1a1a" stroke-width="0.9" fill="none"/>
<ellipse cx="735.9" cy="581.1" rx="4.0" ry="3.0" transform="rotate(0 735.9 581.1)" stroke="#1a1a1a" stroke-width="1.3" fill="none"/>
<ellipse cx="735.9" cy="581.1" rx="2.0" ry="1.4" transform="rotate(0 735.9 581.1)" stroke="#1a1a1a" stroke-width="1.0" fill="none"/>
<path d="M780.5,562.0 L790.5,558.0" stroke="#333" stroke-width="2.0" fill="none" stroke-dasharray="1,1"/>
<path d="M712.0,560.0 L714.0,558.0 L720.0,561.0" stroke="#1a1a1a" stroke-width="1.0" fill="none"/>
<path d="M738.0,556.0 L740.0,550.0" stroke="#1a1a1a" stroke-width="1.3" fill="none"/>
<path d="M742.0,556.0 L744.0,550.0" stroke="#1a1a1a" stroke-width="1.3" fill="none"/>
<path d="M720.0,521.0 L720.0,542.0 L726.6,545.0 L733.5,542.0 L733.5,521.0" stroke="#1a1a1a" stroke-width="1.2" fill="#fff"/>
<ellipse cx="726.6" cy="520.5" rx="6.5" ry="3.2" transform="rotate(0 726.6 520.5)" stroke="#1a1a1a" stroke-width="1.2" fill="#fff"/>
<ellipse cx="726.6" cy="520.3" rx="1.5" ry="1.0" transform="rotate(0 726.6 520.3)" stroke="#1a1a1a" stroke-width="1.2" fill="#222"/>
<path d="M734.1,514.8 L735.9,511.1 L743.4,504.9 L758.2,503.7 L766.9,507.4 L774.3,516.1 L775.6,523.5 L775.6,535.9 L766.0,545.0 L760.0,548.0 L749.0,549.0 L740.0,545.0 L734.1,537.1Z" stroke="#1a1a1a" stroke-width="1.4" fill="#fff"/>
<ellipse cx="750.8" cy="513.2" rx="8.5" ry="5.5" transform="rotate(-3 750.8 513.2)" stroke="#1a1a1a" stroke-width="1.3" fill="#fff"/>
<path d="M774.3,516.1 L766.9,519.8 L760.7,523.5 L755.8,524.7 L752.0,528.5 L749.6,523.5" stroke="#1a1a1a" stroke-width="1.3" fill="none"/>
<path d="M749.6,523.5 L749.6,535.0 L749.6,546.0" stroke="#1a1a1a" stroke-width="1.4" fill="none"/>
<path d="M760.7,523.5 L760.7,535.9" stroke="#555" stroke-width="1.0" fill="none"/>
<path d="M752.0,535.0 L760.7,535.9 L775.0,531.0" stroke="#1a1a1a" stroke-width="1.6" fill="none"/>
<path d="M751.0,539.5 L773.0,535.0" stroke="#1a1a1a" stroke-width="1.3" fill="none"/>
<path d="M751.0,543.5 L770.0,539.5" stroke="#1a1a1a" stroke-width="1.3" fill="none"/>
<path d="M751.0,547.0 L765.0,544.0" stroke="#222" stroke-width="2.2" fill="none"/>
<ellipse cx="768.0" cy="514.0" rx="1.3" ry="1.3" transform="rotate(0 768.0 514.0)" stroke="#1a1a1a" stroke-width="1.3" fill="#222"/>
<ellipse cx="740.5" cy="537.0" rx="1.2" ry="1.2" transform="rotate(0 740.5 537.0)" stroke="#1a1a1a" stroke-width="1.3" fill="#222"/>
<path d="M861.8,427.2 C865.6,426.8 876.3,428.3 880.8,430.6 C885.3,432.9 888.1,437.9 889.0,441.0 C889.9,444.1 888.7,448.1 886.0,449.0 C883.3,449.9 877.0,447.9 872.7,446.3 C868.4,444.7 862.9,441.7 860.4,439.5 C857.9,437.3 857.8,435.1 858.0,433.0 C858.2,430.9 858.0,427.6 861.8,427.2Z" stroke="#1a1a1a" stroke-width="1.2" fill="#fff"/>
<path d="M877.0,447.0 L880.0,461.0 L883.5,462.0 L887.0,450.0Z" stroke="#1a1a1a" stroke-width="1.3" fill="#fff"/>
<path d="M880.0,452.0 L882.0,459.0" stroke="#222" stroke-width="1.6" fill="none"/>
<ellipse cx="880.5" cy="440.0" rx="6.5" ry="9.5" transform="rotate(-15 880.5 440.0)" stroke="#1a1a1a" stroke-width="1.3" fill="#fff"/>
<ellipse cx="880.8" cy="440.0" rx="5.0" ry="8.0" transform="rotate(-15 880.8 440.0)" stroke="#1a1a1a" stroke-width="2.6" fill="none"/>
<ellipse cx="880.8" cy="440" rx="5" ry="8" transform="rotate(-15 880.8 440)" stroke="#fff" stroke-width="1" stroke-dasharray="1,1.6" fill="none"/>
<path d="M877.0,436.0 L881.0,440.0 L879.0,446.0" stroke="#1a1a1a" stroke-width="1.4" fill="none"/>
<path d="M882.0,434.0 L884.0,441.0" stroke="#1a1a1a" stroke-width="1.2" fill="none"/>
<ellipse cx="908.5" cy="427.0" rx="5.3" ry="6.8" transform="rotate(-10 908.5 427.0)" stroke="#1a1a1a" stroke-width="1.5" fill="#fff"/>
<ellipse cx="909.0" cy="427.0" rx="2.8" ry="4.0" transform="rotate(-10 909.0 427.0)" stroke="#1a1a1a" stroke-width="1.3" fill="none"/>
<path d="M911.0,422.5 L928.0,432.0 L930.0,436.0 L926.0,437.0 L910.0,430.0Z" stroke="#1a1a1a" stroke-width="1.2" fill="#fff"/>
<path d="M914.0,424.5 L912.8,431.0" stroke="#1a1a1a" stroke-width="1.0" fill="none"/>
<path d="M917.2,426.3 L916.0,432.2" stroke="#1a1a1a" stroke-width="1.0" fill="none"/>
<path d="M920.4,428.1 L919.2,433.4" stroke="#1a1a1a" stroke-width="1.0" fill="none"/>
<path d="M923.6,429.9 L922.4,434.6" stroke="#1a1a1a" stroke-width="1.0" fill="none"/>
<path d="M926.8,431.7 L925.6,435.8" stroke="#1a1a1a" stroke-width="1.0" fill="none"/>
<path d="M929.1,437.4 L965.2,457.2" stroke="#1a1a1a" stroke-width="0.9" fill="none" stroke-dasharray="3,2"/>
<path d="M965.2,458.5 L943.4,469.4" stroke="#1a1a1a" stroke-width="0.9" fill="none" stroke-dasharray="3,2"/>
<path d="M940.7,478.9 L950.2,485.0" stroke="#1a1a1a" stroke-width="0.9" fill="none"/>
<path d="M886.0,443.0 L900.0,453.0" stroke="#1a1a1a" stroke-width="0.9" fill="none" stroke-dasharray="3,2"/>
<path d="M906.7,468.0 C907.4,464.8 908.8,460.1 910.8,457.2 C912.8,454.3 915.9,451.8 918.9,450.4 C921.9,449.0 925.3,448.8 928.5,449.0 C931.7,449.2 935.7,450.3 938.0,451.7 C940.3,453.1 941.3,454.5 942.1,457.2 C942.9,459.9 942.9,464.4 942.7,468.0 C942.5,471.6 941.9,476.4 940.7,478.9 C939.5,481.4 938.5,482.1 935.3,483.0 C932.1,483.9 925.6,484.6 921.7,484.4 C917.8,484.2 914.6,483.1 912.1,481.7 C909.6,480.3 907.6,478.5 906.7,476.2 C905.8,473.9 906.0,471.2 906.7,468.0Z" stroke="#1a1a1a" stroke-width="1.3" fill="#fff"/>
<path d="M918.0,458.0 C919.2,457.0 922.3,453.0 925.0,452.0 C927.7,451.0 931.5,451.0 934.0,452.0 C936.5,453.0 939.0,457.0 940.0,458.0" stroke="#1a1a1a" stroke-width="1.0" fill="none"/>
<ellipse cx="926.5" cy="468.0" rx="10.5" ry="13.0" transform="rotate(-5 926.5 468.0)" stroke="#1a1a1a" stroke-width="2.4" fill="none"/>
<ellipse cx="926.5" cy="468" rx="10.5" ry="13" transform="rotate(-5 926.5 468)" stroke="#fff" stroke-width="0.9" stroke-dasharray="1,1.8" fill="none"/>
<ellipse cx="926.5" cy="469.0" rx="5.0" ry="6.5" transform="rotate(0 926.5 469.0)" stroke="#1a1a1a" stroke-width="1.6" fill="#fff"/>
<ellipse cx="927.0" cy="470.0" rx="2.5" ry="3.2" transform="rotate(0 927.0 470.0)" stroke="#1a1a1a" stroke-width="1.4" fill="#444"/>
<path d="M917.0,462.0 L921.0,468.0 L918.0,474.0" stroke="#1a1a1a" stroke-width="1.6" fill="none"/>
<path d="M931.0,460.0 L935.0,465.0 L934.0,474.0" stroke="#1a1a1a" stroke-width="1.5" fill="none"/>
<path d="M920.0,478.0 L926.0,481.0 L933.0,479.0" stroke="#222" stroke-width="1.8" fill="none"/>
<ellipse cx="937.5" cy="476.0" rx="2.2" ry="2.6" transform="rotate(0 937.5 476.0)" stroke="#1a1a1a" stroke-width="1.3" fill="none"/>
<path d="M934.0,458.0 L938.0,459.0" stroke="#1a1a1a" stroke-width="1.6" fill="none"/>
<path d="M899.9,455.0 L905.0,453.0 L909.4,457.0 L906.0,460.0 L901.0,460.0Z" stroke="#1a1a1a" stroke-width="1.1" fill="#fff"/>
<path d="M897.0,476.0 L905.0,479.0 L912.0,481.0" stroke="#333" stroke-width="2.0" fill="none"/>
<path d="M924.6,697.0 L924.6,745.6" stroke="#1a1a1a" stroke-width="1.3" fill="none"/>
<path d="M938.3,697.0 L938.3,738.3" stroke="#1a1a1a" stroke-width="1.3" fill="none"/>
<path d="M926.0,702.2 L929.5,700.0" stroke="#1a1a1a" stroke-width="1.1" fill="none"/>
<path d="M932.5,702.2 L936.5,700.0" stroke="#1a1a1a" stroke-width="1.1" fill="none"/>
<path d="M926.0,706.4 L929.5,704.2" stroke="#1a1a1a" stroke-width="1.1" fill="none"/>
<path d="M932.5,706.4 L936.5,704.2" stroke="#1a1a1a" stroke-width="1.1" fill="none"/>
<path d="M926.0,710.6 L929.5,708.4" stroke="#1a1a1a" stroke-width="1.1" fill="none"/>
<path d="M932.5,710.6 L936.5,708.4" stroke="#1a1a1a" stroke-width="1.1" fill="none"/>
<path d="M926.0,714.8 L929.5,712.6" stroke="#1a1a1a" stroke-width="1.1" fill="none"/>
<path d="M932.5,714.8 L936.5,712.6" stroke="#1a1a1a" stroke-width="1.1" fill="none"/>
<path d="M926.0,719.0 L929.5,716.8" stroke="#1a1a1a" stroke-width="1.1" fill="none"/>
<path d="M932.5,719.0 L936.5,716.8" stroke="#1a1a1a" stroke-width="1.1" fill="none"/>
<path d="M926.0,723.2 L929.5,721.0" stroke="#1a1a1a" stroke-width="1.1" fill="none"/>
<path d="M932.5,723.2 L936.5,721.0" stroke="#1a1a1a" stroke-width="1.1" fill="none"/>
<path d="M926.0,727.4 L929.5,725.2" stroke="#1a1a1a" stroke-width="1.1" fill="none"/>
<path d="M932.5,727.4 L936.5,725.2" stroke="#1a1a1a" stroke-width="1.1" fill="none"/>
<path d="M926.0,731.6 L929.5,729.4" stroke="#1a1a1a" stroke-width="1.1" fill="none"/>
<path d="M932.5,731.6 L936.5,729.4" stroke="#1a1a1a" stroke-width="1.1" fill="none"/>
<path d="M926.0,735.8 L929.5,733.6" stroke="#1a1a1a" stroke-width="1.1" fill="none"/>
<path d="M932.5,735.8 L936.5,733.6" stroke="#1a1a1a" stroke-width="1.1" fill="none"/>
<path d="M921.0,694.0 L920.0,686.0 L925.0,680.0 L932.0,677.5 L939.0,679.0 L944.0,685.0 L944.0,692.0 L941.0,696.0" stroke="#1a1a1a" stroke-width="1.0" fill="none" stroke-dasharray="1.6,1.2"/>
<path d="M921.0,696.0 L941.0,696.0" stroke="#1a1a1a" stroke-width="1.0" fill="none" stroke-dasharray="1.6,1.2"/>
<path d="M920.5,687.0 L922.5,694.5" stroke="#1a1a1a" stroke-width="1.8" fill="none"/>
<path d="M924.0,684.0 L925.5,694.0" stroke="#1a1a1a" stroke-width="1.2" fill="none"/>
<path d="M937.0,683.0 L937.5,693.0 L941.0,691.0" stroke="#1a1a1a" stroke-width="1.4" fill="none"/>
<path d="M942.0,685.0 L943.5,693.0" stroke="#1a1a1a" stroke-width="1.4" fill="none"/>
<path d="M903.3,688.2 L903.3,753.8" stroke="#1a1a1a" stroke-width="1.2" fill="none"/>
<path d="M901,688.5 L905.6,688.5 L903.3,701Z M901,754 L905.6,754 L903.3,741.5Z" fill="#111"/>
<path d="M897.3,708.3 L923.7,696.4" stroke="#1a1a1a" stroke-width="1.0" fill="none"/>
<path d="M899.1,740.1 L924.6,727.4" stroke="#1a1a1a" stroke-width="1.0" fill="none"/>
<path d="M909.1,749.2 L953.8,727.4" stroke="#1a1a1a" stroke-width="1.0" fill="none"/>
<path d="M909,749.3 L920,741.8 L921.5,746.5Z M954,727.2 L943,734.5 L941.5,729.8Z" fill="#111"/>
<text x="894" y="728.5" style="font-weight:normal;font-size:11px;stroke:none">X</text>
<text x="927.8" y="749.5" style="font-weight:normal;font-size:11px;stroke:none">X</text>
<path d="M121.5,42.5 L121.5,115.0" stroke="#161616" stroke-width="1.25" fill="none" />
<path d="M211.5,42.5 L211.5,155.0" stroke="#161616" stroke-width="1.8" fill="none" />
<path d="M249.5,42.5 L249.5,173.4 L230.3,192.6" stroke="#161616" stroke-width="1.25" fill="none" />
<path d="M298.3,42.5 L298.3,173.0" stroke="#161616" stroke-width="1.25" fill="none" />
<path d="M338.7,42.5 L338.7,157.7" stroke="#161616" stroke-width="1.25" fill="none" />
<path d="M374.3,42.5 L374.3,173.0" stroke="#161616" stroke-width="1.8" fill="none" />
<path d="M411.8,42.5 L411.8,247.0 L359.5,276.6" stroke="#161616" stroke-width="1.25" fill="none" />
<path d="M449.5,42.5 L449.5,275.0" stroke="#161616" stroke-width="1.25" fill="none" />
<path d="M565.1,42.5 L565.1,341.0" stroke="#161616" stroke-width="1.25" fill="none" />
<path d="M658.7,42.5 L658.7,313.0 L857.5,426.5" stroke="#161616" stroke-width="1.25" fill="none" />
<path d="M949.6,42.5 L949.6,386.0 L916.0,419.0" stroke="#161616" stroke-width="1.25" fill="none" />
<path d="M50.0,768.5 L50.0,254.2 L66.6,237.4" stroke="#161616" stroke-width="1.25" fill="none" />
<path d="M101.4,768.5 L101.4,319.0" stroke="#161616" stroke-width="1.25" fill="none" />
<path d="M180.1,768.5 L180.1,321.4 L123.8,267.0" stroke="#161616" stroke-width="1.8" fill="none" />
<path d="M225.6,768.5 L225.6,296.5 L174.3,245.3" stroke="#161616" stroke-width="1.25" fill="none" />
<path d="M446.5,768.5 L446.5,554.0" stroke="#161616" stroke-width="1.25" fill="none" />
<path d="M760.7,768.5 L760.7,585.0" stroke="#161616" stroke-width="1.25" fill="none" />
<path d="M834.8,768.5 L834.8,503.0 L765.0,463.0" stroke="#161616" stroke-width="1.25" fill="none" />
<rect x="114.5" y="24.5" width="17.5" height="17.5" fill="#fff" stroke="#1e1e1e" stroke-width="1.15"/>
<text x="122.8" y="38.3" text-anchor="middle">7</text>
<rect x="205.5" y="24.5" width="17.5" height="17.5" fill="#fff" stroke="#1e1e1e" stroke-width="1.15"/>
<text x="213.8" y="38.3" text-anchor="middle">8</text>
<rect x="243.0" y="24.5" width="17.5" height="17.5" fill="#fff" stroke="#1e1e1e" stroke-width="1.15"/>
<text x="251.2" y="38.3" text-anchor="middle">2</text>
<rect x="291.5" y="24.5" width="17.5" height="17.5" fill="#fff" stroke="#1e1e1e" stroke-width="1.15"/>
<text x="299.8" y="38.3" text-anchor="middle">4</text>
<rect x="331.5" y="24.5" width="17.5" height="17.5" fill="#fff" stroke="#1e1e1e" stroke-width="1.15"/>
<text x="339.8" y="38.3" text-anchor="middle">5</text>
<rect x="367.5" y="24.5" width="17.5" height="17.5" fill="#fff" stroke="#1e1e1e" stroke-width="1.15"/>
<text x="375.8" y="38.3" text-anchor="middle">6</text>
<rect x="405.5" y="24.5" width="17.5" height="17.5" fill="#fff" stroke="#1e1e1e" stroke-width="1.15"/>
<text x="413.8" y="38.3" text-anchor="middle">17</text>
<rect x="442.5" y="24.5" width="17.5" height="17.5" fill="#fff" stroke="#1e1e1e" stroke-width="1.15"/>
<rect x="442.6" y="26.0" width="14.9" height="16.0" fill="none" stroke="#b3333d" stroke-width="1.4"/>
<text x="450.8" y="38.3" text-anchor="middle">14</text>
<rect x="558.0" y="24.5" width="17.5" height="17.5" fill="#fff" stroke="#1e1e1e" stroke-width="1.15"/>
<rect x="558.1" y="26.0" width="14.9" height="16.0" fill="none" stroke="#b3333d" stroke-width="1.4"/>
<text x="566.2" y="38.3" text-anchor="middle">12</text>
<rect x="652.5" y="24.5" width="17.5" height="17.5" fill="#fff" stroke="#1e1e1e" stroke-width="1.15"/>
<text x="660.8" y="38.3" text-anchor="middle">10</text>
<rect x="941.5" y="24.5" width="17.5" height="17.5" fill="#fff" stroke="#1e1e1e" stroke-width="1.15"/>
<text x="949.8" y="38.3" text-anchor="middle">11</text>
<rect x="43.1" y="769.0" width="17.5" height="17.5" fill="#fff" stroke="#1e1e1e" stroke-width="1.15"/>
<text x="51.4" y="782.8" text-anchor="middle">15</text>
<rect x="94.8" y="769.0" width="17.5" height="17.5" fill="#fff" stroke="#1e1e1e" stroke-width="1.15"/>
<text x="103.0" y="782.8" text-anchor="middle">1</text>
<rect x="173.5" y="769.0" width="17.5" height="17.5" fill="#fff" stroke="#1e1e1e" stroke-width="1.15"/>
<text x="181.8" y="782.8" text-anchor="middle">3</text>
<rect x="219.5" y="769.0" width="17.5" height="17.5" fill="#fff" stroke="#1e1e1e" stroke-width="1.15"/>
<text x="227.8" y="782.8" text-anchor="middle">13</text>
<rect x="439.8" y="769.0" width="17.5" height="17.5" fill="#fff" stroke="#1e1e1e" stroke-width="1.15"/>
<text x="448.1" y="782.8" text-anchor="middle">9</text>
<rect x="753.8" y="769.0" width="17.5" height="17.5" fill="#fff" stroke="#1e1e1e" stroke-width="1.15"/>
<text x="762.0" y="782.8" text-anchor="middle">16</text>
<rect x="828.1" y="769.0" width="17.5" height="17.5" fill="#fff" stroke="#1e1e1e" stroke-width="1.15"/>
<text x="836.4" y="782.8" text-anchor="middle">4</text>
</svg>
</body></html>
